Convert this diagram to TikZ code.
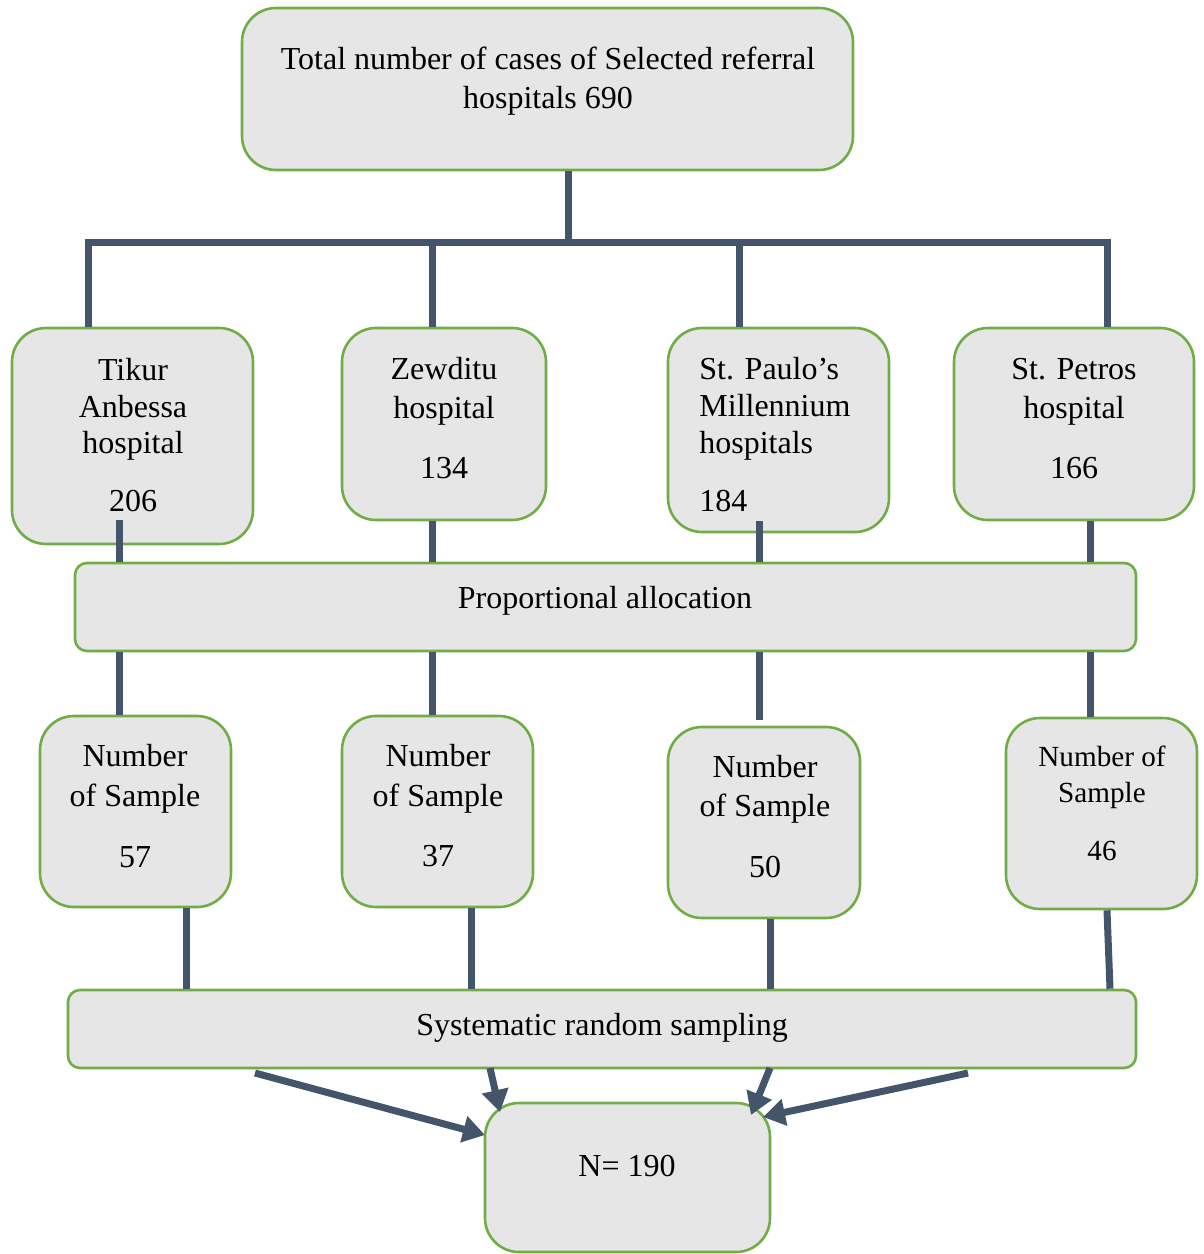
\documentclass[tikz,border=0pt]{standalone}
\usepackage{fontspec}
\setmainfont{Liberation Serif}
\usetikzlibrary{arrows.meta}
\definecolor{boxfill}{HTML}{E6E6E6}
\definecolor{boxedge}{HTML}{70AD47}
\definecolor{conncol}{HTML}{44546A}
\begin{document}
\begin{tikzpicture}[x=0.5pt,y=-0.5pt,
  box/.style={draw=boxedge,fill=boxfill,line width=1.3pt,rounded corners=17pt,inner sep=0pt},
  flatbox/.style={box,rounded corners=6pt},
  conn/.style={draw=conncol,line width=3.5pt},
  arr/.style={conn,-{Triangle[length=11pt,width=13pt]}},
  txt/.style={inner sep=0pt,anchor=base,font=\fontsize{16}{19}\selectfont},
  txtl/.style={txt,anchor=base west},
  txts/.style={txt,font=\fontsize{14.6}{17}\selectfont}]
\useasboundingbox (0,0) rectangle (1204,1254);
% boxes
\node[box,minimum width=305.5pt,minimum height=81pt] (top) at (547.5,89) {};
\node[box,minimum width=120.5pt,minimum height=108pt] (tikur) at (132.5,436) {};
\node[box,minimum width=102pt,minimum height=96pt] (zew) at (444,424) {};
\node[box,minimum width=110.5pt,minimum height=102pt] (paulo) at (778.5,430) {};
\node[box,minimum width=120pt,minimum height=96pt] (petros) at (1074,424) {};
\node[flatbox,minimum width=530.5pt,minimum height=44pt] (prop) at (605.5,607) {};
\node[box,minimum width=95.5pt,minimum height=95.5pt] (s1) at (135.5,811.5) {};
\node[box,minimum width=95.5pt,minimum height=95.5pt] (s2) at (437.5,811.5) {};
\node[box,minimum width=96pt,minimum height=95.5pt] (s3) at (764,822.5) {};
\node[box,minimum width=95.5pt,minimum height=95.5pt] (s4) at (1101.5,813.5) {};
\node[flatbox,minimum width=534pt,minimum height=39pt] (sys) at (602,1029) {};
\node[box,minimum width=142.5pt,minimum height=74.5pt] (nn) at (627.5,1177.5) {};
% coordinates
\coordinate (j0) at (568,242);
\coordinate (hl) at (88,242);
\coordinate (hr) at (1107,242);
\coordinate (b2) at (432,242);
\coordinate (b3) at (739,242);
\coordinate (v1) at (119,520);
\coordinate (v3) at (759,521);
\coordinate (v3e) at (759,720);
\coordinate (v4) at (1090,520);
\coordinate (w1) at (186,0);
\coordinate (w2) at (471,0);
\coordinate (w3) at (770,0);
\coordinate (w4a) at (1107,0);
\coordinate (w4b) at (1110,0);
\coordinate (a1s) at (255,1073);
\coordinate (a1e) at (485,1135);
\coordinate (a2s) at (490,1068);
\coordinate (a2e) at (500,1112);
\coordinate (a3s) at (770,1068);
\coordinate (a3e) at (751,1115);
\coordinate (a4s) at (968,1073);
\coordinate (a4e) at (763,1117);
% connectors
\draw[conn] (top.south -| j0) -- (j0);
\draw[conn] (tikur.north -| hl) -- (hl) -- (hr) -- (petros.north -| hr);
\draw[conn] (b2) -- (zew.north -| b2);
\draw[conn] (b3) -- (paulo.north -| b3);
\draw[conn] (v1) -- (prop.north -| v1);
\draw[conn] (zew.south -| b2) -- (prop.north -| b2);
\draw[conn] (v3) -- (prop.north -| v3);
\draw[conn] (petros.south -| v4) -- (prop.north -| v4);
\draw[conn] (prop.south -| v1) -- (s1.north -| v1);
\draw[conn] (prop.south -| b2) -- (s2.north -| b2);
\draw[conn] (prop.south -| v3) -- (v3e);
\draw[conn] (prop.south -| v4) -- (s4.north -| v4);
\draw[conn] (s1.south -| w1) -- (sys.north -| w1);
\draw[conn] (s2.south -| w2) -- (sys.north -| w2);
\draw[conn] (s3.south -| w3) -- (sys.north -| w3);
\draw[conn] (s4.south -| w4a) -- (sys.north -| w4b);
\draw[arr] (a1s) -- (a1e);
\draw[arr] (a2s) -- (a2e);
\draw[arr] (a3s) -- (a3e);
\draw[arr] (a4s) -- (a4e);
% texts
\node[txt] (t0a) at (548,69) {Total number of cases of Selected referral};
\node[txt] (t0b) at (548,108) {hospitals 690};
\node[txt] (t1a) at (133,380) {Tikur};
\node[txt] (t1b) at (133,417) {Anbessa};
\node[txt] (t1c) at (133,453) {hospital};
\node[txt] (t1d) at (133,511) {206};
\node[txt] (t2a) at (444,379) {Zewditu};
\node[txt] (t2b) at (444,418) {hospital};
\node[txt] (t2c) at (444,478) {134};
\node[txtl] (t3a) at (699,379) {St. Paulo’s};
\node[txtl] (t3b) at (699,416) {Millennium};
\node[txtl] (t3c) at (699,453) {hospitals};
\node[txtl] (t3d) at (699,511) {184};
\node[txt] (t4a) at (1074,379) {St. Petros};
\node[txt] (t4b) at (1074,418) {hospital};
\node[txt] (t4c) at (1074,478) {166};
\node[txt] (tp) at (605,608) {Proportional allocation};
\node[txt] (u1a) at (135,766) {Number};
\node[txt] (u1b) at (135,806) {of Sample};
\node[txt] (u1c) at (135,867) {57};
\node[txt] (u2a) at (438,766) {Number};
\node[txt] (u2b) at (438,806) {of Sample};
\node[txt] (u2c) at (438,866) {37};
\node[txt] (u3a) at (765,777) {Number};
\node[txt] (u3b) at (765,816) {of Sample};
\node[txt] (u3c) at (765,877) {50};
\node[txts] (u4a) at (1102,766) {Number of};
\node[txts] (u4b) at (1102,802) {Sample};
\node[txts] (u4c) at (1102,860) {46};
\node[txt] (ts) at (602,1035) {Systematic random sampling};
\node[txt] (tn) at (627,1176) {N= 190};
\end{tikzpicture}
\end{document}
